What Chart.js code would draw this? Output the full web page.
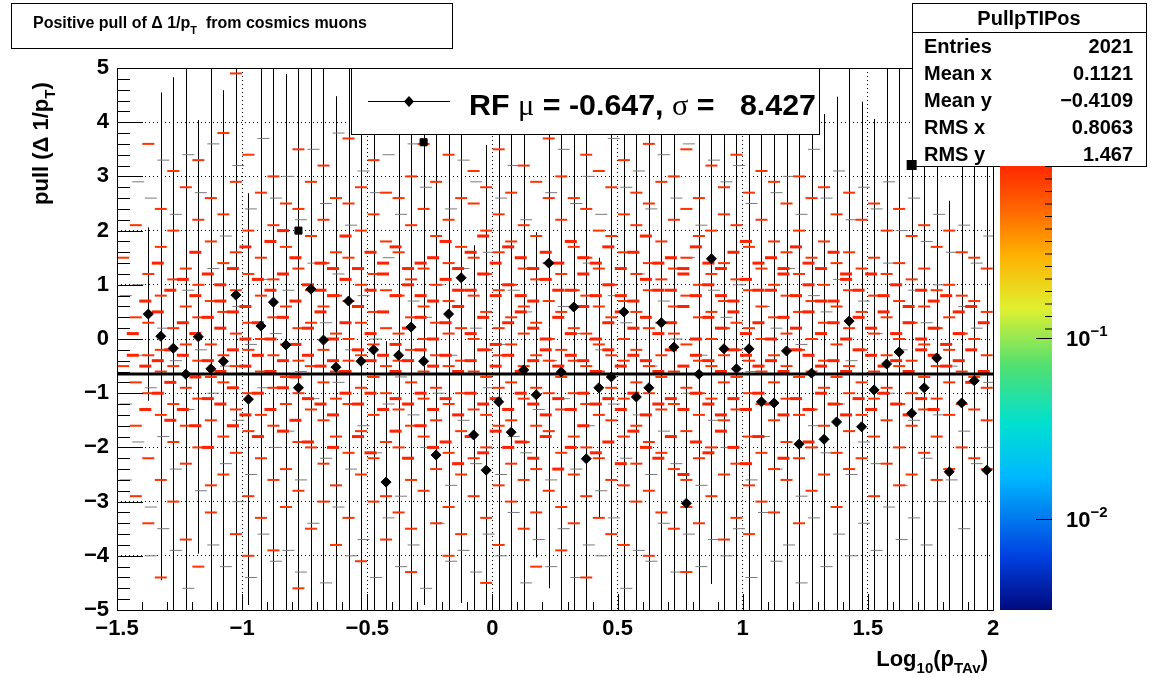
<!DOCTYPE html>
<html><head><meta charset="utf-8">
<script src="https://cdn.jsdelivr.net/npm/chart.js@4/dist/chart.umd.min.js"></script>
<style>body{margin:0;background:#fff}canvas{display:block}</style></head>
<body><div style="width:1170px;height:678px"><canvas id="c"></canvas></div>
<script>
const binCenters = Array.from({length:70},(_,k)=>+(-1.475+0.05*k).toFixed(3));
const profileMeans = [null,null,0.46,0.05,-0.17,-0.65,0.04,-0.55,-0.41,0.81,-1.11,0.24,0.68,-0.11,-0.9,0.92,-0.02,-0.52,0.7,-0.41,-0.2,-2.64,-0.3,0.22,-0.41,-2.14,0.46,1.13,-1.77,-2.42,-1.16,-1.72,-0.57,-1.03,1.4,-0.61,0.59,-2.21,-0.9,-0.7,0.5,-1.07,-0.9,0.3,-0.15,-3.03,-0.65,1.48,-0.18,-0.55,-0.18,-1.16,-1.18,-0.22,-1.94,-0.63,-1.85,-1.53,0.33,-1.62,-0.94,-0.46,-0.24,-1.37,-0.9,-0.35,-2.45,-1.18,-0.77,-2.42];
const profileErrors = [0,0,1.6,4.5,5,6,4,6,5,6,3.8,6,6,5,6,6,7,5,6,6,6,2.6,6,6,4.5,6,6,6,3.5,6,6,6,6,3,6,6,7,6,2.4,6,6,6,6,6,7,2.5,6,6,5,6,6,6,6,5,6,6,6,6,7,6,5,6,6,6,6,5,5,6,6,6];
const overflowX = [-0.775,-0.275,1.675];
const overflowY = [2.0,3.63,3.21];
const fitMean = -0.647, fitSigma = 8.427;
const redCells = [
[1.5,-0.5],[2.1,0.4,-0.8,-1.6,-2.9],[3.6,1.2,0.3,-0.3,-1.0,-2.2,-3.4],[2.4,1.7,0.8,-0.2,-0.6,-1.4,-2.6,-4.4],
[3.1,2.0,1.1,0.2,-0.5,-1.2,-1.9,-3.0],[2.8,1.3,0.6,-0.1,-0.9,-1.6,-2.3,-3.7],[3.3,2.2,1.0,0.4,-0.4,-1.1,-2.0,-4.2],[2.6,1.8,0.7,-0.1,-0.7,-1.5,-2.7,-3.2],
[3.8,2.3,1.4,0.5,-0.3,-0.8,-1.8,-2.5],[4.9,2.9,1.6,0.9,0.1,-0.5,-1.3,-2.1,-3.6],[3.4,2.0,1.2,0.3,-0.2,-1.0,-1.7,-2.9,-4.0],[2.7,1.5,0.8,0.0,-0.6,-1.4,-2.2,-3.3],
[3.0,2.1,1.1,0.4,-0.3,-0.9,-1.6,-2.6,-3.9],[2.5,1.7,0.6,-0.1,-0.7,-1.2,-2.4,-3.1],[3.5,2.4,1.3,0.2,-0.4,-1.0,-1.9,-2.8,-4.6],[2.9,1.9,0.9,0.3,-0.5,-1.3,-2.0,-3.5],
[3.2,2.2,1.4,0.6,-0.2,-0.8,-1.5,-2.3,-3.0],[2.6,1.6,0.8,0.1,-0.6,-1.1,-1.8,-2.7,-3.8],[3.7,2.5,1.5,0.7,0.0,-0.4,-1.2,-2.1,-3.3],[2.8,2.0,1.0,0.3,-0.3,-0.9,-1.7,-2.5,-4.1],
[3.3,2.3,1.2,0.5,-0.1,-0.7,-1.4,-2.2,-3.0],[2.7,1.8,0.9,0.2,-0.5,-1.0,-1.9,-2.9,-3.7],[3.9,2.6,1.6,0.8,0.1,-0.4,-1.3,-2.0,-3.2],[3.0,2.1,1.1,0.4,-0.2,-0.8,-1.6,-2.6,-3.5,-4.3],
[3.6,2.4,1.3,0.6,0.0,-0.6,-1.1,-1.8,-2.8],[2.9,1.9,1.0,0.3,-0.3,-0.9,-1.5,-2.4,-3.4],[3.4,2.2,1.4,0.7,0.1,-0.5,-1.2,-2.1,-3.1,-4.0],[2.6,1.7,0.9,0.2,-0.4,-1.0,-1.7,-2.5,-3.6],
[3.1,2.5,1.5,0.8,0.0,-0.6,-1.3,-2.2,-2.9],[2.8,2.0,1.2,0.5,-0.2,-0.7,-1.4,-2.0,-3.3,-4.5],[3.5,2.3,1.6,0.9,0.2,-0.3,-0.9,-1.6,-2.7,-3.8],[2.7,1.8,1.0,0.4,-0.1,-0.8,-1.5,-2.3,-3.0],
[3.2,2.1,1.3,0.6,0.1,-0.5,-1.1,-1.9,-2.6,-3.5],[2.9,1.9,1.1,0.3,-0.3,-0.9,-1.6,-2.4,-3.2,-4.2],[3.7,2.6,1.4,0.7,0.0,-0.4,-1.0,-1.7,-2.8],[3.0,2.2,1.2,0.5,-0.2,-0.7,-1.3,-2.1,-3.1,-3.9],
[2.6,1.7,0.9,0.2,-0.4,-1.0,-1.8,-2.5,-3.4],[3.4,2.4,1.5,0.8,0.1,-0.5,-1.2,-2.0,-2.9,-4.4],[3.1,2.0,1.3,0.6,-0.1,-0.6,-1.4,-2.2,-3.3],[2.8,1.9,1.0,0.4,-0.3,-0.9,-1.5,-2.6,-3.6],
[3.3,2.3,1.6,0.7,0.0,-0.4,-1.1,-1.8,-2.7,-3.8],[2.7,2.1,1.2,0.5,-0.2,-0.8,-1.6,-2.3,-3.0],[3.6,2.5,1.4,0.9,0.2,-0.5,-1.0,-1.9,-2.8,-4.0],[2.9,1.8,1.1,0.3,-0.3,-0.7,-1.3,-2.1,-3.2],
[3.0,2.2,1.3,0.6,0.1,-0.6,-1.2,-2.4,-3.5],[3.5,2.4,1.5,0.8,-0.1,-0.9,-1.7,-2.6,-3.1,-4.3],[2.6,1.9,1.0,0.4,-0.4,-1.0,-1.4,-2.2,-3.4],[3.2,2.0,1.2,0.5,0.0,-0.5,-1.1,-2.0,-2.9],
[2.8,2.3,1.4,0.7,0.2,-0.3,-0.8,-1.5,-2.5,-3.7],[3.4,2.1,1.1,0.3,-0.2,-0.7,-1.3,-2.3,-3.3],[2.7,1.7,0.9,0.2,-0.4,-1.0,-1.8,-2.7,-3.6],[3.1,2.2,1.3,0.6,0.0,-0.6,-1.2,-2.1,-3.0],
[2.9,1.8,1.0,0.4,-0.3,-0.8,-1.5,-2.4,-3.2],[2.5,1.6,0.8,0.1,-0.5,-1.1,-1.9,-2.6],[3.0,2.0,1.2,0.5,-0.2,-0.7,-1.4,-2.2,-3.4],[2.6,1.5,0.7,0.0,-0.6,-1.3,-2.0,-2.8],
[2.8,1.8,1.0,0.3,-0.4,-0.9,-1.6,-2.5],[2.3,1.4,0.6,-0.1,-0.7,-1.2,-2.1,-3.1],[2.7,1.6,0.9,0.2,-0.5,-1.0,-1.7,-2.4],[2.2,1.3,0.5,-0.2,-0.8,-1.4,-2.2],
[2.5,1.5,0.8,0.1,-0.6,-1.1,-1.8,-2.9],[2.0,1.2,0.4,-0.3,-0.9,-1.5,-2.3],[2.4,1.4,0.7,0.0,-0.5,-1.2,-2.0,-2.7],[1.9,1.1,0.3,-0.4,-1.0,-1.6,-2.5],
[2.1,1.3,0.6,-0.1,-0.7,-1.3,-2.1],[1.7,0.9,0.2,-0.5,-1.1,-1.8,-2.6],[2.0,1.0,0.4,-0.2,-0.8,-1.4,-2.4],[1.6,0.8,0.1,-0.6,-1.2,-2.0],
[1.5,0.7,0.0,-0.7,-1.3,-2.2],[1.3,0.5,-0.3,-0.9,-1.5,-2.4]
];
const denseCells = [
'','0.1 -0.3','0.7 -0.5 -1.3','1.4 0.5 -0.4 -1.0','0.9 -0.2 -0.8 -1.5','1.1 0.3 -0.3 -1.3','0.8 0.1 -0.7 -1.6 1.6','1.2 0.4 -0.4 -1.1 -2.0',
'1.0 0.2 -0.6 -1.2 0.7','1.3 0.5 -0.2 -0.9 -1.6','0.6 0.0 -0.5 -1.4 1.7','1.1 0.3 -0.3 -1.0 -1.8','0.9 0.0 -0.6 -1.3 1.8','1.2 0.4 -0.4 -0.9 -1.7 2.0','0.7 -0.1 -0.7 -1.5 1.5','1.0 0.2 -0.3 -1.1 -1.9',
'1.4 0.5 -0.5 -1.2 0.9','0.8 0.0 -0.4 -1.4 1.3 -2.0','1.1 0.3 -0.6 -1.0 1.9','1.3 0.6 -0.2 -1.2 -1.8','0.9 0.1 -0.4 -1.0 1.6 -2.1','1.2 0.5 -0.3 -1.3 1.4','0.8 -0.1 -0.6 -1.1 1.7 -1.7','1.0 0.2 -0.4 -1.2 1.3 -2.2',
'1.4 0.4 -0.2 -1.0 0.8 -1.6','0.7 0.0 -0.5 -1.3 1.5 -2.0','1.1 0.3 -0.3 -1.1 1.8 -1.9','1.3 0.6 -0.6 -1.4 0.9 -2.3','0.9 0.1 -0.4 -1.0 1.6 -1.8','1.2 0.4 -0.2 -1.2 1.9 -2.1','0.8 -0.1 -0.5 -1.1 1.4 -1.7','1.0 0.3 -0.3 -1.3 1.7 -2.0',
'1.5 0.5 -0.6 -1.0 0.8 -1.9','0.7 0.2 -0.4 -1.2 1.3 -2.2','1.1 0.0 -0.2 -1.4 1.6 -1.8','1.4 0.4 -0.5 -1.1 0.9 -2.4','0.9 0.1 -0.3 -1.3 1.8 -2.0','1.2 0.6 -0.4 -1.0 1.5 -1.6','0.8 0.0 -0.6 -1.2 1.4 -2.1','1.0 0.3 -0.2 -1.1 1.7 -1.9',
'1.3 0.5 -0.5 -1.3 0.8 -2.3','0.7 0.2 -0.3 -1.0 1.6 -1.7','1.1 0.4 -0.4 -1.4 1.9 -2.0','1.4 0.1 -0.6 -1.2 0.9 -2.2','0.9 0.3 -0.2 -1.1 1.5 -1.8','1.2 0.6 -0.5 -1.3 1.3 -2.5','0.8 0.0 -0.3 -1.0 1.7 -1.9','1.0 0.4 -0.4 -1.2 1.4 -2.1',
'1.3 0.2 -0.6 -1.4 0.8 -1.7','0.7 0.5 -0.2 -1.1 1.6 -2.0','1.1 0.1 -0.3 -1.3 1.8 -2.3','1.4 0.3 -0.5 -1.0 0.9 -1.8','0.9 0.0 -0.4 -1.2 1.5','1.2 0.4 -0.6 -1.4 1.3 -2.2','0.8 0.2 -0.2 -1.1 1.7','1.0 0.5 -0.3 -1.3 1.4 -1.9',
'1.3 0.1 -0.5 -1.0 0.7','0.7 0.3 -0.4 -1.2 1.6','1.1 0.0 -0.6 -1.4 1.2','0.9 0.4 -0.2 -1.1','1.2 0.2 -0.3 -1.3','0.8 0.5 -0.5 -1.0','1.0 0.1 -0.4 -1.2','0.6 0.3 -0.6 -1.4',
'0.9 0.0 -0.2 -1.1','0.7 0.2 -0.3 -1.3','0.8 -0.1 -0.5','0.5 0.1 -0.4','0.6 -0.2 -0.8','0.3 -0.6'
];
const grayCells = [
[0.8,-1.2,-2.6],[2.9,1.0,-0.3,-1.9],[2.6,-0.9,-3.1,-4.0],[3.3,0.2,-1.8,-3.5],[2.3,-0.4,-2.4,-3.9],[3.4,0.9,-1.3,-4.6],[2.7,-0.2,-2.8],[3.6,1.3,-1.0,-3.8],
[1.9,-0.5,-2.3,-4.2],[3.2,0.6,-1.5,-3.0],[2.4,-0.1,-2.5,-4.4],[3.7,1.1,-0.9,-3.6],[2.6,0.1,-2.0,-4.1],[3.0,0.9,-1.7,-3.9],[2.2,-0.6,-2.6,-4.3],[3.5,1.4,-1.1,-3.4],
[2.5,0.3,-2.2,-4.5],[3.8,1.2,-0.8,-3.1],[2.1,-0.2,-2.4,-4.0],[3.1,0.8,-1.6,-3.7],[2.7,0.0,-2.1,-4.4],[3.4,1.5,-1.2,-3.3],[2.3,-0.7,-2.9,-4.2],[3.6,0.7,-1.4,-3.8],
[2.8,0.4,-2.0,-4.6],[4.2,1.0,-1.0,-3.4],[2.4,-0.3,-2.7,-4.1],[3.3,1.3,-1.5,-3.9],[2.9,0.2,-2.3,-4.3],[4.5,1.6,-0.9,-3.6],[2.6,-0.1,-2.5,-4.0],[3.2,0.9,-1.8,-3.2],
[2.2,0.5,-2.1,-4.5],[3.9,1.1,-1.3,-3.7],[2.7,-0.4,-2.6,-4.2],[3.5,0.6,-1.1,-3.5],[2.5,0.1,-2.4,-4.4],[3.0,1.4,-1.6,-3.8],[2.3,-0.2,-2.8,-4.0],[3.7,0.8,-1.2,-3.3],
[2.8,0.3,-2.2,-4.6],[3.1,1.2,-1.4,-3.9],[2.4,-0.5,-2.5,-4.1],[3.4,0.7,-1.7,-3.4],[2.6,0.0,-2.3,-4.3],[3.6,1.5,-1.0,-3.6],[2.1,-0.3,-2.7,-4.2],[3.3,0.9,-1.5,-3.7],
[2.9,0.4,-2.0,-4.0],[3.2,1.0,-1.3,-3.5],[2.5,-0.6,-2.6,-4.4],[3.8,0.6,-1.8,-3.2],[2.7,0.2,-2.4,-4.1],[3.0,1.3,-1.1,-3.8],[2.3,-0.1,-2.9,-4.5],[3.5,0.8,-1.6,-3.3],
[2.6,0.5,-2.1,-4.2],[3.1,1.1,-1.2,-3.6],[2.2,-0.4,-2.5,-4.0],[2.8,0.7,-1.9,-3.4],[2.4,0.1,-2.3,-3.9],[2.9,1.4,-1.0,-3.1],[2.0,-0.2,-2.7,-3.7],[2.6,0.9,-1.5,-3.3],
[1.8,0.3,-2.2,-3.8],[2.3,1.0,-1.4,-3.0],[1.6,-0.5,-2.6],[2.1,0.6,-1.7,-3.5],[1.4,0.2,-2.3],[1.9,-0.8,-2.0]
];
const xTicks = [-1.5,-1,-0.5,0,0.5,1,1.5,2];
const yTicks = [-5,-4,-3,-2,-1,0,1,2,3,4,5];
const statsLabels = ['Entries','Mean x','Mean y','RMS x','RMS y'];
const statsValues = ['2021','0.1121','\u22120.4109','0.8063','1.467'];

const redPts=[], grayPts=[], densePts=[];
redCells.forEach((a,k)=>a.forEach(y=>redPts.push({x:binCenters[k],y})));
denseCells.forEach((s,k)=>s.split(' ').filter(t=>t).forEach(t=>densePts.push({x:binCenters[k]-0.012,y:+t})));
grayCells.forEach((a,k)=>a.forEach(y=>grayPts.push({x:binCenters[k]+0.01,y:y})));
const profPts = binCenters.map((x,k)=>({x,y:profileMeans[k]}));
const fmt = v => (v<0?'\u2212':'')+Math.abs(v);

function seg(ctx,x,y,parts){
  parts.forEach(p=>{ctx.font=p[1];ctx.fillText(p[0],x,y+(p[2]||0));x+=ctx.measureText(p[0]).width;});
  return x;
}
function segW(ctx,parts){let w=0;parts.forEach(p=>{ctx.font=p[1];w+=ctx.measureText(p[0]).width;});return w;}

const deco = {
  id:'deco',
  beforeDatasetsDraw(ch){
    const {ctx,chartArea:a,scales:{x,y}}=ch;
    ctx.save();
    ctx.beginPath();ctx.rect(a.left,a.top,a.right-a.left,a.bottom-a.top);ctx.clip();
    ctx.strokeStyle='#000';ctx.lineWidth=1;
    binCenters.forEach((c,k)=>{
      if(profileMeans[k]===null)return;
      const px=Math.round(x.getPixelForValue(c))+0.5;
      ctx.beginPath();ctx.moveTo(px,y.getPixelForValue(profileMeans[k]-profileErrors[k]));
      ctx.lineTo(px,y.getPixelForValue(profileMeans[k]+profileErrors[k]));ctx.stroke();
    });
    ctx.restore();
  },
  afterDraw(ch){
    const {ctx,chartArea:a,scales:{x,y}}=ch;
    ctx.save();
    ctx.strokeStyle='#000';ctx.lineWidth=1;
    ctx.strokeRect(a.left+0.5,a.top+0.5,a.right-a.left,a.bottom-a.top);
    ctx.beginPath();
    for(let v=-1.5;v<=2.0001;v+=0.1){const px=Math.round(x.getPixelForValue(v))+0.5;const big=Math.abs(v*2-Math.round(v*2))<1e-6;ctx.moveTo(px,a.bottom);ctx.lineTo(px,a.bottom-(big?16:8));}
    for(let v=-5;v<=5.0001;v+=0.2){const py=Math.round(y.getPixelForValue(v))+0.5;const big=Math.abs(v-Math.round(v))<1e-6;ctx.moveTo(a.left,py);ctx.lineTo(a.left+(big?26:13),py);}
    ctx.stroke();
    ctx.fillStyle='#000';ctx.textBaseline='alphabetic';
    ctx.save();ctx.translate(48,205);ctx.rotate(-Math.PI/2);
    seg(ctx,0,0,[['pull (\u0394 1/p','bold 22px "Liberation Sans"'],['T','bold 15px "Liberation Sans"',7],[')','bold 22px "Liberation Sans"']]);
    ctx.restore();
    const xt=[['Log','bold 22px "Liberation Sans"'],['10','bold 15px "Liberation Sans"',7],['(p','bold 22px "Liberation Sans"'],['TAv','bold 15px "Liberation Sans"',7],[')','bold 22px "Liberation Sans"']];
    seg(ctx,988-segW(ctx,xt),666,xt);
    ctx.fillStyle='#fff';ctx.fillRect(11,3,441,45);ctx.strokeRect(11.5,3.5,441,45);
    ctx.fillStyle='#000';
    seg(ctx,33,28,[['Positive pull of \u0394 1/p','bold 16px "Liberation Sans"'],['T','bold 11px "Liberation Sans"',6],['  from cosmics muons','bold 16px "Liberation Sans"']]);
    ctx.fillStyle='#fff';ctx.fillRect(351,68,468,66);ctx.strokeRect(351.5,68.5,468,66);
    ctx.beginPath();ctx.moveTo(368,101.5);ctx.lineTo(450,101.5);ctx.stroke();
    ctx.fillStyle='#000';ctx.beginPath();ctx.moveTo(409,96);ctx.lineTo(414,101.5);ctx.lineTo(409,107);ctx.lineTo(404,101.5);ctx.fill();
    const lp=[['RF ','bold 29px "Liberation Sans"'],['\u03bc','29px "Liberation Serif"'],[' = -0.647, ','bold 29px "Liberation Sans"'],['\u03c3','29px "Liberation Serif"'],[' =   8.427','bold 29px "Liberation Sans"']];
    const lw=segW(ctx,lp);
    ctx.save();ctx.translate(469,115);ctx.scale(347/lw,1);seg(ctx,0,0,lp);ctx.restore();
    ctx.fillStyle='#fff';ctx.fillRect(912,3,234,163);ctx.strokeRect(912.5,3.5,234,163);
    ctx.beginPath();ctx.moveTo(912,32.5);ctx.lineTo(1146,32.5);ctx.stroke();
    ctx.fillStyle='#000';ctx.font='bold 20px "Liberation Sans"';ctx.textAlign='center';ctx.fillText('PullpTIPos',1029,25);
    statsLabels.forEach((l,i)=>{ctx.textAlign='left';ctx.fillText(l,924,53+i*27);ctx.textAlign='right';ctx.fillText(statsValues[i],1133,53+i*27);});
    ctx.fillRect(x.getPixelForValue(overflowX[2])-5,y.getPixelForValue(overflowY[2])-5,10,10);
    const g=ctx.createLinearGradient(0,610,0,166);
    [[0,'#000a7f'],[0.12,'#0040e0'],[0.3,'#00b8ff'],[0.42,'#00e0d0'],[0.55,'#50e070'],[0.68,'#e0f030'],[0.8,'#ffb000'],[0.92,'#ff5a00'],[1,'#ff2a00']].forEach(s=>g.addColorStop(s[0],s[1]));
    ctx.fillStyle=g;ctx.fillRect(1000,166,52,444);
    ctx.beginPath();
    [338,519].forEach(py=>{ctx.moveTo(1052,py+0.5);ctx.lineTo(1036,py+0.5);});
    for(let i=0;i<14;i++){const py=166+i*12.5;ctx.moveTo(1052,py+0.5);ctx.lineTo(1045,py+0.5);}
    ctx.strokeStyle='#000';ctx.stroke();
    ctx.fillStyle='#000';ctx.textAlign='left';
    seg(ctx,1066,346,[['10','bold 22px "Liberation Sans"'],['\u22121','bold 15px "Liberation Sans"',-10]]);
    seg(ctx,1066,527,[['10','bold 22px "Liberation Sans"'],['\u22122','bold 15px "Liberation Sans"',-10]]);
    ctx.restore();
  }
};

new Chart(document.getElementById('c'),{
  type:'scatter',
  data:{datasets:[
    {data:[{x:-1.5,y:fitMean},{x:2,y:fitMean}],type:'line',borderColor:'#000',borderWidth:3,pointRadius:0,order:1},
    {data:profPts,pointStyle:'rectRot',pointRadius:5,backgroundColor:'#000',borderColor:'#000',order:2},
    {data:overflowX.map((v,i)=>({x:v,y:overflowY[i]})),pointStyle:'rect',pointRadius:5,backgroundColor:'#000',borderColor:'#000',order:3},
    {data:grayPts,pointStyle:'line',pointRadius:6,borderColor:'#7a7a7a',borderWidth:1,order:6},
    {data:redPts,pointStyle:'line',pointRadius:6,borderColor:'#ff3300',borderWidth:2,order:5},
    {data:densePts,pointStyle:'line',pointRadius:6,borderColor:'#ff2200',borderWidth:3,order:4}
  ]},
  options:{
    responsive:true,maintainAspectRatio:false,animation:false,
    layout:{padding:{left:0,right:177,top:68,bottom:0}},
    plugins:{legend:{display:false},tooltip:{enabled:false}},
    scales:{
      x:{type:'linear',min:-1.5,max:2,afterFit(s){s.height=68;},afterBuildTicks(s){s.ticks=xTicks.map(v=>({value:v}));},
        grid:{color:'#000',lineWidth:1,drawTicks:false},border:{display:false,dash:[1,3]},
        ticks:{padding:6,color:'#000',font:{family:'Liberation Sans',size:22,weight:'bold'},callback:v=>fmt(v),maxRotation:0}},
      y:{type:'linear',min:-5,max:5,afterFit(s){s.width=117;},afterBuildTicks(s){s.ticks=yTicks.map(v=>({value:v}));},
        grid:{color:'#000',lineWidth:1,drawTicks:false},border:{display:false,dash:[1,3]},
        ticks:{padding:8,color:'#000',font:{family:'Liberation Sans',size:22,weight:'bold'},callback:v=>fmt(v)}}
    }
  },
  plugins:[deco]
});
</script></body></html>
